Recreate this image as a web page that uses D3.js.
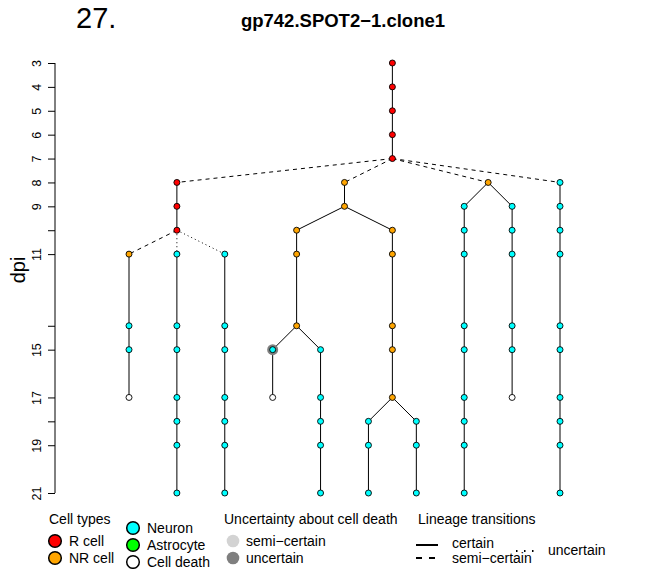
<!DOCTYPE html>
<html>
<head>
<meta charset="utf-8">
<script src="https://cdn.jsdelivr.net/npm/d3@7"></script>
<style>
  html, body { margin: 0; padding: 0; background: #fff; }
  svg { display: block; font-family: "Liberation Sans", Arial, Helvetica, sans-serif; }
</style>
</head>
<body>
<svg id="chart" width="655" height="569"></svg>
<script>
// Lineage tree of clone gp742.SPOT2-1.clone1: each branch is a run of
// observations of one cell lineage on one lane, joined to its parent branch.
const branchName   = ["root","A","A1","A2","A3","B","B1","B1a","B1b","B2","B2a","B2b","C","C1","C2","D"];
const branchParent = [null,"root","A","A","A","root","B","B1","B1","B","B2","B2","root","C","C","root"];
const branchLane   = [11, 2, 0, 2, 4, 9, 7, 6, 8, 11, 10, 12, 15, 14, 16, 18];
// transition from the parent's last observation: certain / semi-certain / uncertain
const branchLink   = [null,"semi","semi","unc","unc","semi","cert","cert","cert","cert","cert","cert","semi","cert","cert","semi"];
const branchDays   = [
  [3,4,5,6,7], [8,9,10], [11,14,15,17], [11,14,15,17,18,19,21], [11,14,15,17,18,19,21],
  [8,9], [10,11,14], [15,17], [15,17,18,19,21], [10,11,14,15,17], [18,19,21], [18,19,21],
  [8], [9,10,11,14,15,17,18,19,21], [9,10,11,14,15,17], [8,9,10,11,14,15,17,18,19,21]
];
// R = R cell, O = NR cell, C = neuron, A = astrocyte, D = cell death
const branchTypes  = ["RRRRR","RRR","OCCD","CCCCCCC","CCCCCCC","OO","OOO","CD","CCCCC","OOOOO",
                      "CCC","CCC","O","CCCCCCCCC","CCCCCD","CCCCCCCCCC"];
// observations whose cell death is in question
const doubtBranch  = ["B1a"];
const doubtDay     = [15];
const doubtLevel   = ["uncertain"];

const tickDays     = [3,4,5,6,7,8,9,10,11,14,15,17,18,19,21];
const labeledDays  = [3,4,5,6,7,8,9,11,15,17,19,21];

const typeFill = { R: "#FF0000", O: "#FFA500", C: "#00FFFF", A: "#00FF00", D: "#FFFFFF" };
const doubtFill = { "semi-certain": "#D3D3D3", "uncertain": "#7F7F7F" };
const linkDash = { cert: null, semi: "4,4", unc: "1,3" };

const svg = d3.select("#chart");
const y = d3.scaleLinear().domain([3, 21]).range([63, 493]);
const x = d3.scaleLinear().domain([0, 18]).range([129, 560]);

// titles
svg.append("text").attr("x", 76).attr("y", 28).attr("font-size", 29).text("27.");
svg.append("text").attr("x", 343).attr("y", 27).attr("text-anchor", "middle")
  .attr("font-size", 18.5).attr("font-weight", "bold").text("gp742.SPOT2\u22121.clone1");

// y axis
const yAxis = d3.axisLeft(y).tickValues(tickDays).tickSize(7).tickPadding(4)
  .tickFormat(d => labeledDays.includes(d) ? String(d) : "");
const ga = svg.append("g").attr("transform", "translate(55,0)").call(yAxis);
ga.select(".domain").attr("d", `M0,${y(3)}V${y(21)}`).attr("stroke", "#000");
ga.selectAll(".tick line").attr("stroke", "#000");
ga.selectAll(".tick text")
  .attr("font-size", 12.5).attr("font-family", "Liberation Sans, Arial, sans-serif")
  .attr("fill", "#000")
  .attr("x", null).attr("dy", null)
  .attr("text-anchor", "middle")
  .attr("transform", "translate(-14,0) rotate(-90)")
  .attr("dy", "0.35em").attr("y", -4);
svg.append("text").attr("transform", `translate(25,${(y(3) + y(21)) / 2 - 8}) rotate(-90)`)
  .attr("text-anchor", "middle").attr("font-size", 20).text("dpi");

// build nodes and edges
const nodes = [];
const edges = [];
const lastNode = {};
const firstNode = {};
branchName.forEach((b, i) => {
  const pts = branchDays[i].map((d, j) => ({ branch: b, lane: branchLane[i], day: d, type: branchTypes[i][j] }));
  pts.forEach(p => nodes.push(p));
  for (let j = 1; j < pts.length; j++) edges.push({ s: pts[j - 1], t: pts[j], link: "cert" });
  firstNode[b] = pts[0];
  lastNode[b] = pts[pts.length - 1];
});
branchName.forEach((b, i) => {
  if (branchParent[i]) edges.push({ s: lastNode[branchParent[i]], t: firstNode[b], link: branchLink[i] });
});

svg.append("g").selectAll("line").data(edges).join("line")
  .attr("x1", d => x(d.s.lane)).attr("y1", d => y(d.s.day))
  .attr("x2", d => x(d.t.lane)).attr("y2", d => y(d.t.day))
  .attr("stroke", "#000").attr("stroke-width", 1)
  .attr("stroke-dasharray", d => linkDash[d.link]);

// cell-death doubt halos
const doubts = doubtBranch.map((b, i) => {
  const k = branchName.indexOf(b);
  return { lane: branchLane[k], day: doubtDay[i], level: doubtLevel[i] };
});
svg.append("g").selectAll("circle").data(doubts).join("circle")
  .attr("cx", d => x(d.lane)).attr("cy", d => y(d.day)).attr("r", 5.5)
  .attr("fill", d => doubtFill[d.level]);

svg.append("g").selectAll("circle").data(nodes).join("circle")
  .attr("cx", d => x(d.lane)).attr("cy", d => y(d.day)).attr("r", 3)
  .attr("fill", d => typeFill[d.type]).attr("stroke", "#000").attr("stroke-width", 0.9);

// legends
const lg = svg.append("g").attr("font-size", 14);
lg.append("text").attr("x", 49).attr("y", 524).text("Cell types");
const typeKeys = ["R cell", "NR cell", "Neuron", "Astrocyte", "Cell death"];
const typeCodes = ["R", "O", "C", "A", "D"];
const typeCol = [0, 0, 1, 1, 1];
const typeRow = [1, 2, 0, 1, 2];
typeKeys.forEach((k, i) => {
  const cx = typeCol[i] ? 133 : 55;
  const cy = typeCol[i] ? 528 + typeRow[i] * 17 : 524 + typeRow[i] * 17;
  lg.append("circle").attr("cx", cx).attr("cy", cy).attr("r", 6.3)
    .attr("fill", typeFill[typeCodes[i]]).attr("stroke", "#000").attr("stroke-width", 1.5);
  lg.append("text").attr("x", cx + 14).attr("y", cy + 5).text(k);
});

lg.append("text").attr("x", 224).attr("y", 524).text("Uncertainty about cell death");
const doubtKeys = ["semi-certain", "uncertain"];
const doubtLabels = ["semi\u2212certain", "uncertain"];
doubtKeys.forEach((k, i) => {
  const cy = 541 + i * 17;
  lg.append("circle").attr("cx", 233).attr("cy", cy).attr("r", 6.3).attr("fill", doubtFill[k]);
  lg.append("text").attr("x", 246).attr("y", cy + 5).text(doubtLabels[i]);
});

lg.append("text").attr("x", 418).attr("y", 524).text("Lineage transitions");
const linkKeys = ["cert", "semi", "unc"];
const linkLabels = ["certain", "semi\u2212certain", "uncertain"];
const linkX = [416, 416, 516];
const linkY = [545, 558, 551];
const linkTextY = [548, 563, 555];
linkKeys.forEach((k, i) => {
  lg.append("line").attr("x1", linkX[i]).attr("x2", linkX[i] + 22)
    .attr("y1", linkY[i]).attr("y2", linkY[i])
    .attr("stroke", "#000").attr("stroke-width", 2)
    .attr("stroke-dasharray", k === "semi" ? "6,7" : (k === "unc" ? "1.5,6.5" : null));
  lg.append("text").attr("x", linkX[i] + (i === 2 ? 32 : 36)).attr("y", linkTextY[i]).text(linkLabels[i]);
});
</script>
</body>
</html>
